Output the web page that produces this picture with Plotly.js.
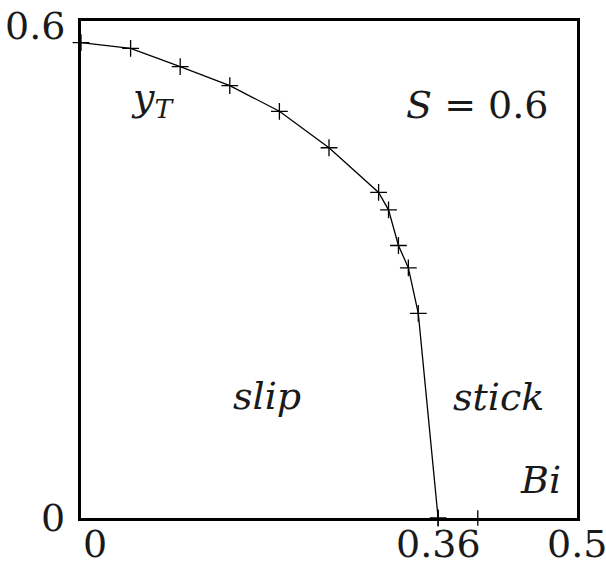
<!DOCTYPE html>
<html>
<head>
<meta charset="utf-8">
<script src="https://cdn.plot.ly/plotly-3.0.1.min.js"></script>
<style>
  html, body { margin: 0; padding: 0; background: #fff; }
  #chart { width: 606px; height: 572px; }
</style>
</head>
<body>
<div id="chart"></div>
<script>
// Slip/stick boundary y_T as a function of Bi, for S = 0.6
const biValues = [0, 0.05, 0.10, 0.15, 0.20, 0.25, 0.30, 0.31, 0.32, 0.33, 0.34, 0.36];
const yTValues = [0.574, 0.567, 0.545, 0.522, 0.491, 0.447, 0.393, 0.372, 0.329, 0.302, 0.247, 0];

// Short marks on the Bi axis
const axisMarks = [0.36, 0.4];

// Axis labels drawn at the ends of the frame
const xTickVals = [0, 0.36, 0.5];
const xTickText = ['0', '0.36', '0.5'];
const yTickVals = [0, 0.6];
const yTickText = ['0', '0.6'];

const serif = 'DejaVu Serif';
const ink = '#1a1a1a';

const traces = [
  {
    x: biValues,
    y: yTValues,
    type: 'scatter',
    mode: 'lines+markers',
    line: { color: '#000', width: 1.3 },
    marker: { symbol: 'cross-thin', size: 12, line: { color: '#000', width: 1.3 } },
    cliponaxis: false,
    hoverinfo: 'skip'
  },
  {
    x: axisMarks,
    y: axisMarks.map(() => 0),
    type: 'scatter',
    mode: 'markers',
    marker: { symbol: 'line-ns', size: 11, line: { color: '#000', width: 1.3 } },
    cliponaxis: false,
    hoverinfo: 'skip'
  }
];

const annotations = [];
xTickVals.forEach((v, i) => {
  annotations.push({
    x: v, y: 0, xref: 'x', yref: 'y',
    text: xTickText[i], showarrow: false,
    xanchor: v === 0 ? 'left' : 'center', yanchor: 'top', yshift: -2,
    font: { family: serif, size: 38, color: ink }
  });
});
yTickVals.forEach((v, i) => {
  annotations.push({
    x: 0, y: v, xref: 'x', yref: 'y',
    text: yTickText[i], showarrow: false,
    xanchor: 'right', yanchor: 'middle', xshift: -14, yshift: v === 0 ? 0 : -5,
    font: { family: serif, size: 38, color: ink }
  });
});

const labelFont = { family: serif, size: 38, color: ink };
const labels = [
  { x: 0.0716, y: 0.505, text: '<i>y</i><sub><i>T</i></sub>' },
  { x: 0.399, y: 0.498, text: '<i>S</i> = 0.6' },
  { x: 0.187, y: 0.147, text: '<i>slip</i>' },
  { x: 0.4204, y: 0.146, text: '<i>stick</i>' },
  { x: 0.4637, y: 0.046, text: '<i>Bi</i>' }
];
labels.forEach(l => {
  annotations.push({
    x: l.x, y: l.y, xref: 'x', yref: 'y', text: l.text, showarrow: false,
    xanchor: 'center', yanchor: 'middle', font: labelFont
  });
});

const layout = {
  width: 606,
  height: 572,
  margin: { l: 81, r: 29, t: 21, b: 54, pad: 0 },
  paper_bgcolor: '#fff',
  plot_bgcolor: '#fff',
  showlegend: false,
  font: { family: serif, color: ink },
  xaxis: {
    range: [0, 0.5],
    showgrid: false, zeroline: false,
    showline: true, mirror: true, linecolor: '#000', linewidth: 3,
    showticklabels: false, ticks: ''
  },
  yaxis: {
    range: [0, 0.6],
    showgrid: false, zeroline: false,
    showline: true, mirror: true, linecolor: '#000', linewidth: 3,
    showticklabels: false, ticks: ''
  },
  annotations: annotations
};

Plotly.newPlot('chart', traces, layout, { displayModeBar: false, staticPlot: true });
</script>
</body>
</html>
